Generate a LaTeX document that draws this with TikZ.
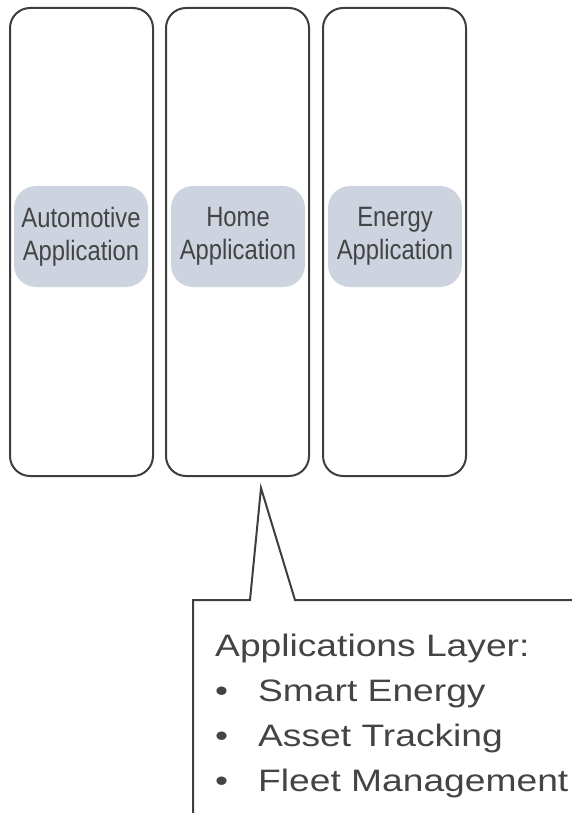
\documentclass[tikz,border=0pt]{standalone}
\usepackage{fontspec}
\setmainfont{Liberation Sans}
\newfontfamily\appfont[FakeStretch=0.85]{Liberation Sans}
\newfontfamily\notefont[FakeStretch=1.2]{Liberation Sans}
\usetikzlibrary{positioning,calc}
\definecolor{edgegray}{HTML}{3E3E3E}
\definecolor{appfill}{HTML}{CDD3DF}
\definecolor{inkgray}{HTML}{444444}
\tikzset{
  colb/.style={draw=edgegray, line width=2pt, rounded corners=20pt,
    minimum width=143pt, minimum height=468pt, inner sep=0pt},
  appb/.style={fill=appfill, rounded corners=22pt, minimum width=134pt,
    minimum height=101pt, inner sep=0pt, align=center, text=inkgray,
    font=\appfont\fontsize{28}{33}\selectfont},
  callout/.style={draw=edgegray, line width=2pt, line join=miter},
  notetxt/.style={align=left, inner sep=0pt, text=inkgray,
    font=\notefont\fontsize{31}{45}\selectfont},
}
\newcommand{\bul}[1]{\makebox[43pt][l]{\textbullet}#1}

\begin{document}
\begin{tikzpicture}[x=1pt,y=-1pt]
  \useasboundingbox (0,0) rectangle (572,813);
  % the three application columns
  \node[colb] (auto) at (81.5,242) {};
  \node[colb] (home) at (237.5,242) {};
  \node[colb] (energy) at (394.5,242) {};
  \node[appb] (autoapp) at (81,236.5) {Automotive\\Application};
  \node[appb] (homeapp) at (238,236.5) {Home\\Application};
  \node[appb] (energyapp) at (395,236.5) {Energy\\Application};
  % callout box
  \coordinate (tip) at ([xshift=23.5pt,yshift=-11pt]home.south);
  \draw[callout] (193,813) -- (193,600) -- (250,600) -- (tip)
    -- (295,600) -- (572,600);
  \node[notetxt, anchor=north west] (layer) at (215,634)
    {Applications Layer:\\ \bul{Smart Energy}\\ \bul{Asset Tracking}\\
     \bul{Fleet Management}};
\end{tikzpicture}
\end{document}
